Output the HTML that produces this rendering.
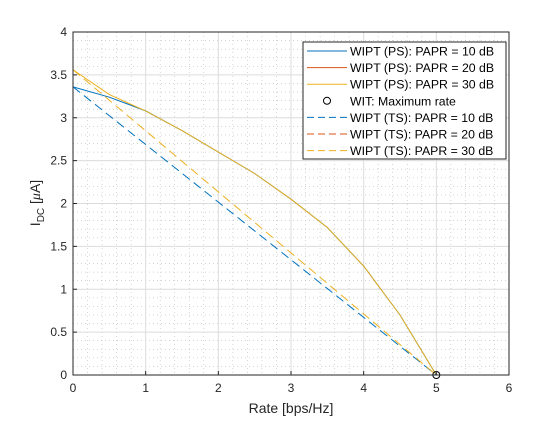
<!DOCTYPE html>
<html><head><meta charset="utf-8"><style>
body{margin:0;background:#fff;}
svg{font-family:"Liberation Sans",sans-serif;}
</style></head><body>
<svg id="chart" width="560" height="420" viewBox="0 0 560 420" xmlns="http://www.w3.org/2000/svg">
<rect x="0" y="0" width="560" height="420" fill="#fff"/>
<rect x="73" y="32" width="436" height="343" fill="#fff"/>
<g id="grid"></g>
<g id="series"></g>
<rect x="73" y="32" width="436" height="343" fill="none" stroke="#262626" stroke-width="1"/>
<g id="ticks"></g>
<text x="291" y="413" font-size="14" text-anchor="middle" fill="#262626">Rate [bps/Hz]</text>
<text transform="translate(40,203) rotate(-90)" font-size="14" text-anchor="middle" fill="#262626">I<tspan font-size="10" dy="4">DC</tspan><tspan dy="-4"> [</tspan><tspan font-family="Liberation Serif" font-style="italic">μ</tspan>A]</text>
<g id="legend"></g>
</svg>
<script>
const xTicks=[0,1,2,3,4,5,6];
const yTicks=[0,0.5,1,1.5,2,2.5,3,3.5,4];
const psRate=[0,0.5,1,1.5,2,2.5,3,3.5,4,4.5,5];
const ps30=[3.56,3.27,3.08,2.85,2.6,2.35,2.05,1.72,1.27,0.7,0];
const ps20=[3.56,3.27,3.08,2.85,2.6,2.35,2.05,1.72,1.27,0.7,0];
const ps10=[3.36,3.24,3.08,2.85,2.6,2.35,2.05,1.72,1.27,0.7,0];
const tsRate=[0,5];
const ts10=[3.36,0];
const ts20=[3.56,0];
const ts30=[3.56,0];
const witRate=[5];
const witVal=[0];
const NS="http://www.w3.org/2000/svg";
const X=v=>73+v*(436/6), Y=v=>375-v*(343/4);
function mk(t,a,p){const e=document.createElementNS(NS,t);for(const k in a)e.setAttribute(k,a[k]);p.appendChild(e);return e;}
const grid=document.getElementById('grid');
for(let i=1;i<30;i++){if(i%5===0)continue;const x=X(i*0.2);const l=mk('line',{x1:x,x2:x,y1:32,y2:375,stroke:'#bbb','stroke-width':0.6,'stroke-dasharray':'1 3'},grid);

}
for(let i=1;i<40;i++){if(i%5===0)continue;const y=Y(i*0.1);const l=mk('line',{x1:73,x2:509,y1:y,y2:y,stroke:'#bbb','stroke-width':0.6,'stroke-dasharray':'1 3'},grid);

}
xTicks.forEach(v=>{const l=mk('line',{x1:X(v),x2:X(v),y1:32,y2:375,stroke:'#dcdcdc','stroke-width':1},grid);

});
yTicks.forEach(v=>{const l=mk('line',{x1:73,x2:509,y1:Y(v),y2:Y(v),stroke:'#dcdcdc','stroke-width':1},grid);

});
const ticks=document.getElementById('ticks');
xTicks.forEach(v=>{mk('line',{x1:X(v),x2:X(v),y1:375,y2:371,stroke:'#262626'},ticks);
const t=mk('text',{x:X(v),y:392,'font-size':12,'text-anchor':'middle',fill:'#262626'},ticks);t.textContent=v;

});
yTicks.forEach(v=>{mk('line',{x1:73,x2:77,y1:Y(v),y2:Y(v),stroke:'#262626'},ticks);
const t=mk('text',{x:67,y:Y(v)+4,'font-size':12,'text-anchor':'end',fill:'#262626'},ticks);t.textContent=v;

});
const S=document.getElementById('series');
function line(xs,ys,col,dash,name,op){const p=mk('polyline',{points:xs.map((x,i)=>X(x)+','+Y(ys[i])).join(' '),fill:'none',stroke:col,'stroke-width':1,'stroke-dasharray':dash||'','stroke-opacity':op==null?1:op},S);

}
const C1='#0072bd',C2='#d95319',C3='#edb120';
line(psRate,ps10,C1,'','ps-papr-10-line');
line(psRate,ps20,C2,'','ps-papr-20-line',0);
line(psRate,ps30,C3,'','ps-papr-30-line');
line(tsRate,ts10,C1,'9 5','ts-papr-10-line');
line(tsRate,ts20,C2,'9 5','ts-papr-20-line',0);
line(tsRate,ts30,C3,'9 5','ts-papr-30-line');
witRate.forEach((r,i)=>{const c=mk('circle',{cx:X(r),cy:Y(witVal[i]),r:3.5,fill:'none',stroke:'#000'},S);

});
const L=document.getElementById('legend');
mk('rect',{x:303,y:42,width:203,height:117,fill:'#fff',stroke:'#262626'},L);
const items=[['WIPT (PS): PAPR = 10 dB',C1,''],['WIPT (PS): PAPR = 20 dB',C2,''],['WIPT (PS): PAPR = 30 dB',C3,''],['WIT: Maximum rate',null,''],['WIPT (TS): PAPR = 10 dB',C1,'7 4'],['WIPT (TS): PAPR = 20 dB',C2,'7 4'],['WIPT (TS): PAPR = 30 dB',C3,'7 4']];
items.forEach((it,i)=>{const y=51+i*16.6;
const g=mk('g',{},L);


if(it[1])mk('line',{x1:307,x2:347,y1:y,y2:y,stroke:it[1],'stroke-dasharray':it[2]},g);
else mk('circle',{cx:327,cy:y,r:3.5,fill:'none',stroke:'#000'},g);
const t=mk('text',{x:350,y:y+4.5,'font-size':12.3,fill:'#000'},g);t.textContent=it[0];});
</script>
</body></html>
